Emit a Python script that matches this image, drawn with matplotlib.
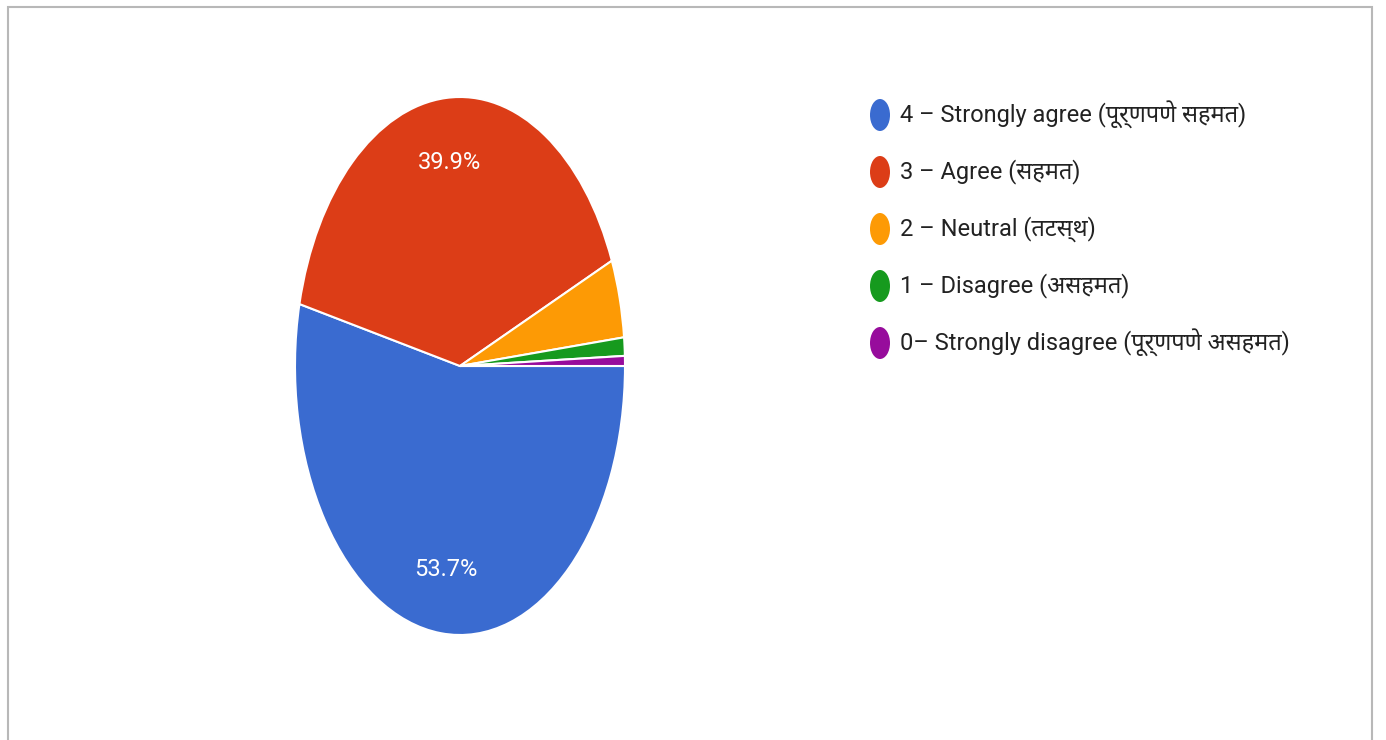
import matplotlib
matplotlib.use('Agg')
import matplotlib.pyplot as plt
from matplotlib import font_manager
from matplotlib.ft2font import FT2Font
from matplotlib.patches import Ellipse, Rectangle

labels = ['4 – Strongly agree (पूर्णपणे सहमत)',
          '3 – Agree (सहमत)',
          '2 – Neutral (तटस्थ)',
          '1 – Disagree (असहमत)',
          '0– Strongly disagree (पूर्णपणे असहमत)']
values = [53.7, 39.9, 4.7, 1.1, 0.6]
colors = ['#3a6bd0', '#dc3d17', '#fd9a05', '#169a1e', '#970c9c']

# font that knows devanagari (prefer Noto)
deva = []
for f in font_manager.fontManager.ttflist:
    try:
        if 0x0938 in FT2Font(f.fname).get_charmap():
            deva.append(f.name)
    except Exception:
        pass
deva = sorted(set(deva))
if 'Noto Sans Devanagari' in deva:
    deva = ['Noto Sans Devanagari']
else:
    deva = deva[:1]
plt.rcParams['font.family'] = ['Roboto'] + deva + ['DejaVu Sans']

fig = plt.figure(figsize=(13.86, 7.40), dpi=100)
fig.patch.set_facecolor('white')

# card frame
fig.add_artist(Rectangle((8 / 1386, -0.02), 1364 / 1386, (740 - 7) / 740 + 0.02,
                         transform=fig.transFigure, facecolor='white',
                         edgecolor='#b8b8b8', linewidth=1.5, zorder=-10))

ax = fig.add_axes([295 / 1386, (740 - 635) / 740, 330 / 1386, 538 / 740])
wedges, texts, autotexts = ax.pie(values, colors=colors, startangle=0, counterclock=False,
                                  autopct=lambda p: '%.1f%%' % p if p > 10 else '',
                                  pctdistance=0.76,
                                  wedgeprops=dict(edgecolor='white', linewidth=1.5))
for t in autotexts:
    t.set_color('white')
    t.set_fontsize(17)
ax.set_aspect('auto')
ax.set_xlim(-1, 1)
ax.set_ylim(-1, 1)

# legend
for i, (lab, col) in enumerate(zip(labels, colors)):
    y = (740 - 115 - i * 57) / 740
    fig.add_artist(Ellipse((880 / 1386, y), 20 / 1386, 32 / 740,
                           transform=fig.transFigure, facecolor=col, edgecolor='none'))
    fig.text(900 / 1386, y, lab, fontsize=17, color='#222222', va='center', ha='left')

fig.savefig('out.png', dpi=100)
